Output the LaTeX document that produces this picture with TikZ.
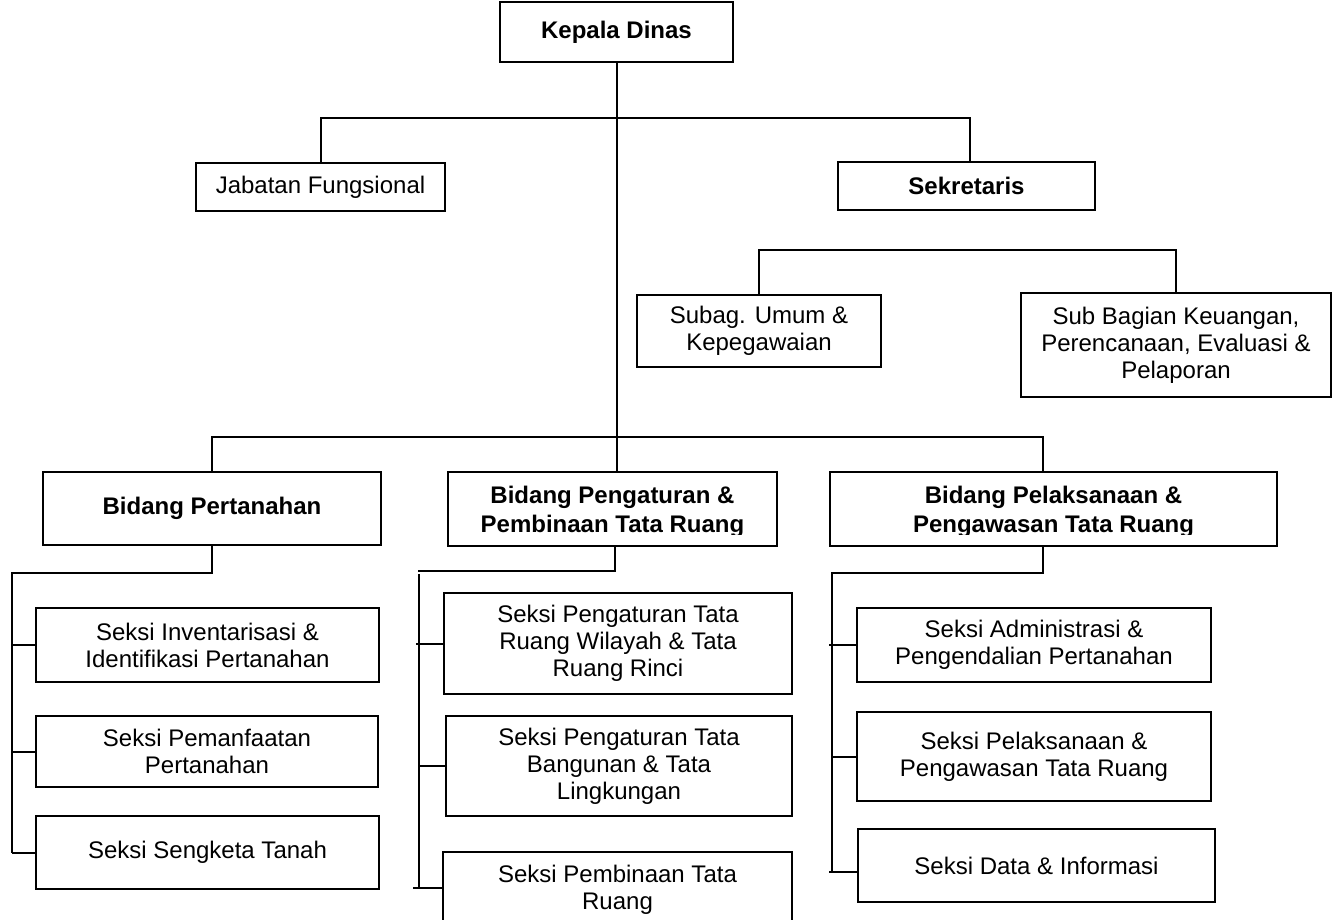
\documentclass[tikz,border=0pt]{standalone}
\usepackage{fontspec}
\setmainfont{Liberation Sans}
\begin{document}
\begin{tikzpicture}[x=1pt,y=-1pt,
  box/.style={draw,line width=2pt,rectangle,inner sep=0pt,align=center,font=\fontsize{24}{27}\selectfont},
  bbox/.style={box,font=\fontsize{24}{27}\selectfont\bfseries},
  btxt/.style={inner sep=0pt,anchor=base,font=\fontsize{24}{27}\selectfont\bfseries},
  conn/.style={line width=2pt}]
\clip (0,0) rectangle (1340,920);
% top level
\node[bbox,minimum width=233pt,minimum height=60pt] (kd) at (616.5,32) {Kepala Dinas};
\node[box,minimum width=249pt,minimum height=48pt] (jf) at (320.5,187) {Jabatan Fungsional};
\node[bbox,minimum width=257pt,minimum height=48pt] (sek) at (966.5,186) {Sekretaris};
\node[box,minimum width=244pt,minimum height=72pt] (sub1) at (759,331) {Subag. Umum \&\\Kepegawaian};
\node[box,minimum width=310pt,minimum height=104pt] (sub2) at (1176,345) {Sub Bagian Keuangan,\\Perencanaan, Evaluasi \&\\Pelaporan};
% bidang
\node[bbox,minimum width=338pt,minimum height=73pt] (bp) at (212,508.5) {Bidang Pertanahan};
\node[box,minimum width=329pt,minimum height=74pt] (bpp) at (612.5,509) {};
\node[box,minimum width=447pt,minimum height=74pt] (bpl) at (1053.5,509) {};
\begin{scope}
\clip (448,472) rectangle (1277,534.5);
\node[btxt] (bpp1) at (612.5,503) {Bidang Pengaturan \&};
\node[btxt] (bpp2) at (612.5,532) {Pembinaan Tata Ruang};
\node[btxt] (bpl1) at (1053.5,503) {Bidang Pelaksanaan \&};
\node[btxt] (bpl2) at (1053.5,532) {Pengawasan Tata Ruang};
\end{scope}
% seksi left
\node[box,minimum width=343pt,minimum height=74pt] (s11) at (207.5,645) {Seksi Inventarisasi \&\\Identifikasi Pertanahan};
\node[box,minimum width=342pt,minimum height=71pt] (s12) at (207,751.5) {Seksi Pemanfaatan\\Pertanahan};
\node[box,minimum width=343pt,minimum height=73pt] (s13) at (207.5,852.5) {Seksi Sengketa Tanah};
% seksi middle
\node[box,minimum width=348pt,minimum height=101pt] (s21) at (618,643.5) {Seksi Pengaturan Tata\\Ruang Wilayah \& Tata\\Ruang Rinci};
\node[box,minimum width=346pt,minimum height=100pt] (s22) at (619,766) {Seksi Pengaturan Tata\\Bangunan \& Tata\\Lingkungan};
\node[box,minimum width=349pt,minimum height=76pt] (s23) at (617.5,890) {Seksi Pembinaan Tata\\Ruang};
% seksi right
\node[box,minimum width=354pt,minimum height=74pt] (s31) at (1034,645) {Seksi Administrasi \&\\Pengendalian Pertanahan};
\node[box,minimum width=354pt,minimum height=89pt] (s32) at (1034,756.5) {Seksi Pelaksanaan \&\\Pengawasan Tata Ruang};
\node[box,minimum width=357pt,minimum height=73pt] (s33) at (1036.5,865.5) {Seksi Data \& Informasi};
% connector coordinates
\coordinate (b1r) at (970,118);
\coordinate (sbr) at (1176,250);
\coordinate (b2r) at (1043,437);
\coordinate (l1) at (12,573);
\coordinate (l1e) at (12,853);
\coordinate (m0) at (615,546);
\coordinate (m1) at (418,571);
\coordinate (m2) at (419,574);
\coordinate (m2e) at (419,888);
\coordinate (r0) at (1043,546);
\coordinate (r1) at (832,573);
\coordinate (r1e) at (832,872);
% connectors
\draw[conn] (kd.south) -- (kd.south |- bpp.north);
\draw[conn] (jf.north) |- (b1r) -- (b1r |- sek.north);
\draw[conn] (sub1.north) |- (sbr) -- (sub2.north);
\draw[conn] (bp.north) |- (b2r) -- (b2r |- bpl.north);
% left column
\draw[conn] (bp.south) |- (l1) -- (l1e);
\draw[conn] (s11.west) -- (s11.west -| l1);
\draw[conn] (s12.west) -- (s12.west -| l1);
\draw[conn] (s13.west) -- (s13.west -| l1);
% middle column
\draw[conn] (m0) |- (m1);
\draw[conn] (m2) -- (m2e);
\draw[conn] (s21.west) -- ([xshift=-3pt]s21.west -| m2);
\draw[conn] ([xshift=2pt]s22.west) -- (s22.west -| m2);
\draw[conn] (s23.west |- m2e) -- ([xshift=-6pt]m2e);
% right column
\draw[conn] (r0) |- (r1) -- (r1e);
\draw[conn] (s31.west) -- ([xshift=-3pt]s31.west -| r1);
\draw[conn] (s32.west) -- (s32.west -| r1);
\draw[conn] (s33.west |- r1e) -- ([xshift=-3pt]r1e);
\end{tikzpicture}
\end{document}
